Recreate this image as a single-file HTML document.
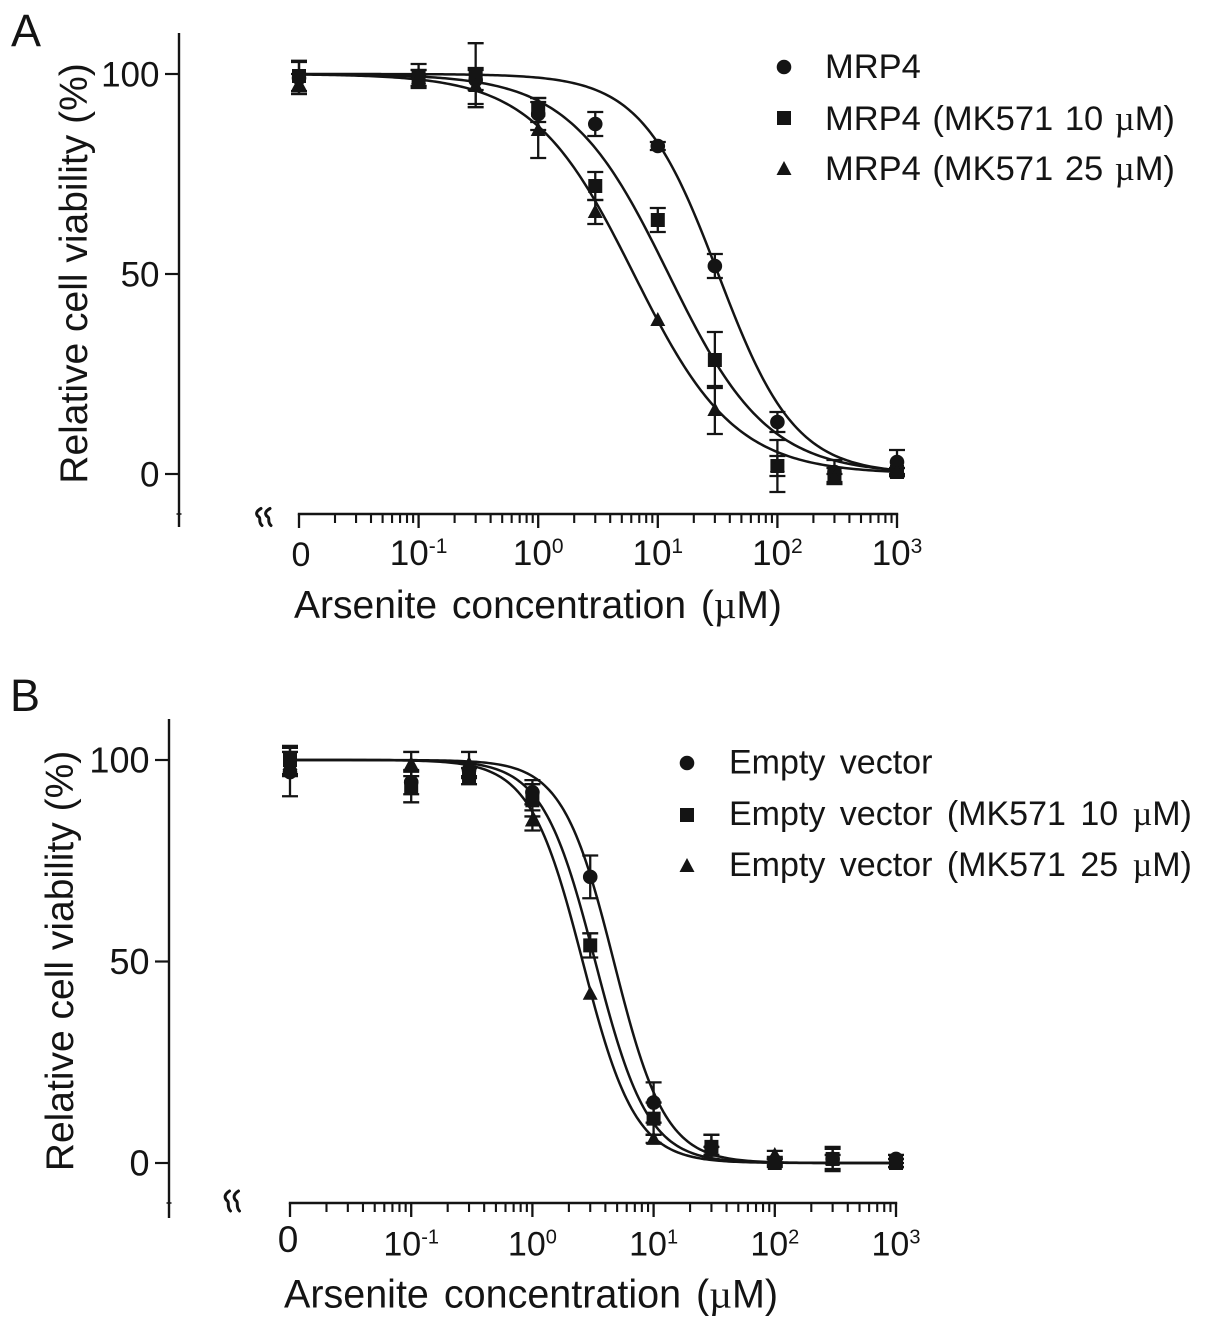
<!DOCTYPE html>
<html lang="en">
<head>
<meta charset="utf-8">
<title>Arsenite viability curves</title>
<style>
html,body{margin:0;padding:0;background:#fff;}
svg{display:block;}
text{font-family:"Liberation Sans",Arial,sans-serif;fill:#141414;}
.mu{font-family:"Liberation Serif",serif;}
</style>
</head>
<body>
<svg id="figure" xmlns="http://www.w3.org/2000/svg" width="1205" height="1330" viewBox="0 0 1205 1330">
  <rect width="1205" height="1330" fill="#fff"/>
  <text x="11" y="46" font-size="45">A</text>
  <text x="10" y="711" font-size="45">B</text>
  <text transform="translate(87,273.5) rotate(-90)" text-anchor="middle" font-size="39">Relative cell viability (%)</text>
  <text transform="translate(73,961) rotate(-90)" text-anchor="middle" font-size="39">Relative cell viability (%)</text>
  <text x="294" y="618" font-size="39" word-spacing="4">Arsenite concentration (<tspan class="mu">µ</tspan>M)</text>
  <text x="284" y="1307.5" font-size="39.5" word-spacing="4">Arsenite concentration (<tspan class="mu">µ</tspan>M)</text>
  <g font-size="34.5" word-spacing="2">
    <text x="825" y="78">MRP4</text>
    <text x="825" y="130">MRP4 (MK571 10 <tspan class="mu">µ</tspan>M)</text>
    <text x="825" y="180">MRP4 (MK571 25 <tspan class="mu">µ</tspan>M)</text>
  </g>
  <g font-size="34" word-spacing="5">
    <text x="729" y="773.5">Empty vector</text>
    <text x="729" y="825">Empty vector (MK571 10 <tspan class="mu">µ</tspan>M)</text>
    <text x="729" y="876">Empty vector (MK571 25 <tspan class="mu">µ</tspan>M)</text>
  </g>
  <g id="chart-layer"></g>
</svg>
<script>
// Shared categories and tick labels
const concentrations = [0.01, 0.1, 0.3, 1, 3, 10, 30, 100, 300, 1000];
const yTickValues = [0, 50, 100];
const xDecades = [-2, -1, 0, 1, 2, 3];
const xDecadeLabels = ['0', '10|-1', '10|0', '10|1', '10|2', '10|3'];

// Panel A values (percent viability) and error bars
const aCircleValues   = [99, 99.5, 98.5, 90, 87.5, 82, 52, 13, 0.5, 3];
const aCircleErrors   = [4, 3, 2.5, 4, 3, 1, 3, 2.5, 3, 3];
const aSquareValues   = [99.5, 99, 99.7, 91, 72, 63.5, 28.5, 2, -0.5, 0.5];
const aSquareErrors   = [3.8, 2, 8, 3, 3.5, 3, 7, 6.5, 2, 1];
const aTriangleValues = [97.5, 99, 97, 86, 65.5, 38.5, 16, 2, -1, 0.5];
const aTriangleErrors = [2.5, 2, 4.5, 7, 3, 0, 6, 2.5, 1, 1];
// Panel A fitted dose-response parameters [circle, square, triangle]
const aFitIC50 = [32, 12.3, 6.3];
const aFitHill = [1.35, 1.05, 1.03];

// Panel B values (percent viability) and error bars
const bCircleValues   = [97, 94.5, 97.5, 92, 71, 15, 4, 0.5, 1, 1];
const bCircleErrors   = [6, 3, 2, 3, 5.3, 5, 3, 1, 3, 1];
const bSquareValues   = [100, 93.3, 96, 90, 54, 11, 4, 0, 1, 0];
const bSquareErrors   = [3.5, 3.8, 2, 4, 3, 4, 3, 1, 2.5, 1];
const bTriangleValues = [99, 99, 99, 85, 42, 6, 3, 2, 1, 0];
const bTriangleErrors = [3, 3, 3, 2.5, 0, 1, 1, 1, 1, 1];
// Panel B fitted dose-response parameters [circle, square, triangle]
const bFitIC50 = [4.7, 3.3, 2.6];
const bFitHill = [2.05, 2.0, 2.0];

const SVGNS = 'http://www.w3.org/2000/svg';
const INK = '#141414';
const layer = document.getElementById('chart-layer');

function make(tag, parent, props) {
  const node = document.createElementNS(SVGNS, tag);
  for (const k in props) node.setAttribute(k, props[k]);
  parent.appendChild(node);
  return node;
}

function drawMarker(parent, kind, px, py) {
  if (kind === 'circle') {
    return make('circle', parent, { cx: px, cy: py, r: 7.3, fill: INK });
  }
  if (kind === 'square') {
    return make('rect', parent, { x: px - 7, y: py - 7, width: 14, height: 14, fill: INK });
  }
  return make('path', parent, { d: 'M' + px + ' ' + (py - 8) + 'L' + (px + 7.5) + ' ' + (py + 6) + 'L' + (px - 7.5) + ' ' + (py + 6) + 'Z', fill: INK });
}

function drawPanel(cfg) {
  const xScale = function (c) { return cfg.x0 + (Math.log10(c) + 2) * cfg.decade; };
  const yScale = function (v) { return cfg.y0 - v * cfg.unit; };

  const group = make('g', layer, {});
  
  

  // y axis
  const yAxis = make('line', group, { x1: cfg.yAxisX, x2: cfg.yAxisX, y1: cfg.yTop, y2: cfg.yBottom, stroke: INK, 'stroke-width': 2.4 });
  
  
  const nub = make('line', group, { x1: cfg.yAxisX - 2.5, x2: cfg.yAxisX + 2.5, y1: cfg.xAxisY, y2: cfg.xAxisY, stroke: INK, 'stroke-width': 1.5 });
  
  
  yTickValues.forEach(function (v) {
    const tick = make('line', group, { x1: cfg.yAxisX - 14, x2: cfg.yAxisX, y1: yScale(v), y2: yScale(v), stroke: INK, 'stroke-width': 2.2 });
    
    
    const label = make('text', group, { x: cfg.yLabelEnd, y: yScale(v) + 12.3, 'text-anchor': 'end', 'font-size': cfg.yLabelSize });
    label.textContent = String(v);
    
    
  });

  // x axis
  const xAxis = make('line', group, { x1: xScale(0.01) - 1.2, x2: xScale(1000) + 1.2, y1: cfg.xAxisY, y2: cfg.xAxisY, stroke: INK, 'stroke-width': 2.4 });
  
  
  xDecades.forEach(function (d, i) {
    const major = make('line', group, { x1: xScale(Math.pow(10, d)), x2: xScale(Math.pow(10, d)), y1: cfg.xAxisY, y2: cfg.xAxisY + 14, stroke: INK, 'stroke-width': 2.3 });
    
    
    if (i < xDecades.length - 1) {
      for (let m = 2; m <= 9; m++) {
        const c = m * Math.pow(10, d);
        const minor = make('line', group, { x1: xScale(c), x2: xScale(c), y1: cfg.xAxisY, y2: cfg.xAxisY + 9, stroke: INK, 'stroke-width': 2.1 });
        
        
      }
    }
    const parts = xDecadeLabels[i].split('|');
    const label = make('text', group, {
      x: parts[1] ? xScale(Math.pow(10, d)) : cfg.zeroX,
      y: parts[1] ? cfg.labelY : cfg.zeroY,
      'text-anchor': 'middle',
      'font-size': parts[1] ? cfg.labelSize : cfg.zeroSize
    });
    
    
    label.appendChild(document.createTextNode(parts[0]));
    if (parts[1]) {
      const sup = make('tspan', label, { dy: -12, 'font-size': cfg.supSize });
      sup.textContent = parts[1];
    }
  });

  // axis break mark: two wavy strokes
  let breakPath = '';
  [-4.5, 4.5].forEach(function (off) {
    const bx = cfg.breakX + off;
    const by = cfg.breakY;
    const h = cfg.breakHalf;
    breakPath += 'M' + (bx + 2) + ' ' + (by - h) +
      'C' + (bx - 5) + ' ' + (by - h * 0.55) + ' ' + (bx - 2) + ' ' + (by - h * 0.15) + ' ' + bx + ' ' + by +
      'C' + (bx + 2) + ' ' + (by + h * 0.15) + ' ' + (bx - 1) + ' ' + (by + h * 0.6) + ' ' + (bx + 3) + ' ' + (by + h);
  });
  const brk = make('path', group, { d: breakPath, fill: 'none', stroke: INK, 'stroke-width': 3, 'stroke-linecap': 'round' });
  
  

  // fitted curves, evaluated through the axis functions
  cfg.series.forEach(function (s, i) {
    let d = '';
    for (let lg = -2; lg <= 3.0001; lg += 0.02) {
      const c = Math.pow(10, lg);
      const v = 100 / (1 + Math.pow(c / cfg.ic50[i], cfg.hill[i]));
      d += (d ? 'L' : 'M') + xScale(c).toFixed(2) + ' ' + yScale(v).toFixed(2);
    }
    const curve = make('path', group, { d: d, fill: 'none', stroke: INK, 'stroke-width': 2.5 });
    
    
  });

  // error bars
  cfg.series.forEach(function (s) {
    s.values.forEach(function (v, j) {
      const err = s.errors[j];
      if (!err) return;
      const px = xScale(concentrations[j]);
      const top = yScale(v + err);
      const bot = yScale(v - err);
      const bar = make('path', group, {
        d: 'M' + px + ' ' + top + 'V' + bot + 'M' + (px - 8) + ' ' + top + 'H' + (px + 8) + 'M' + (px - 8) + ' ' + bot + 'H' + (px + 8),
        fill: 'none', stroke: INK, 'stroke-width': 2.3
      });
      
      
    });
  });

  // data points
  cfg.series.forEach(function (s) {
    s.values.forEach(function (v, j) {
      const mark = drawMarker(group, s.kind, xScale(concentrations[j]), yScale(v));
      
      
    });
  });

  // legend markers
  cfg.series.forEach(function (s, i) {
    const key = drawMarker(group, s.kind, cfg.legendX, cfg.legendY[i]);
    
    
  });
}

drawPanel({
  id: 'panel-a', x0: 299, decade: 119.6, y0: 474, unit: 4,
  yAxisX: 179, yTop: 33, yBottom: 527, xAxisY: 514,
  yLabelEnd: 159.5, yLabelSize: 35,
  labelY: 565, labelSize: 35, supSize: 21,
  zeroX: 301, zeroY: 566, zeroSize: 34,
  breakX: 263.5, breakY: 517, breakHalf: 8.5,
  legendX: 784, legendY: [67, 118, 169],
  ic50: aFitIC50, hill: aFitHill,
  series: [
    { kind: 'circle', values: aCircleValues, errors: aCircleErrors },
    { kind: 'square', values: aSquareValues, errors: aSquareErrors },
    { kind: 'triangle', values: aTriangleValues, errors: aTriangleErrors }
  ]
});

drawPanel({
  id: 'panel-b', x0: 290, decade: 121.2, y0: 1163, unit: 4.03,
  yAxisX: 169, yTop: 719, yBottom: 1218, xAxisY: 1203,
  yLabelEnd: 149.5, yLabelSize: 36,
  labelY: 1255.5, labelSize: 34, supSize: 20,
  zeroX: 288, zeroY: 1252, zeroSize: 37,
  breakX: 232, breakY: 1201, breakHalf: 10,
  legendX: 687, legendY: [763, 815, 866],
  ic50: bFitIC50, hill: bFitHill,
  series: [
    { kind: 'circle', values: bCircleValues, errors: bCircleErrors },
    { kind: 'square', values: bSquareValues, errors: bSquareErrors },
    { kind: 'triangle', values: bTriangleValues, errors: bTriangleErrors }
  ]
});
</script>
</body>
</html>
